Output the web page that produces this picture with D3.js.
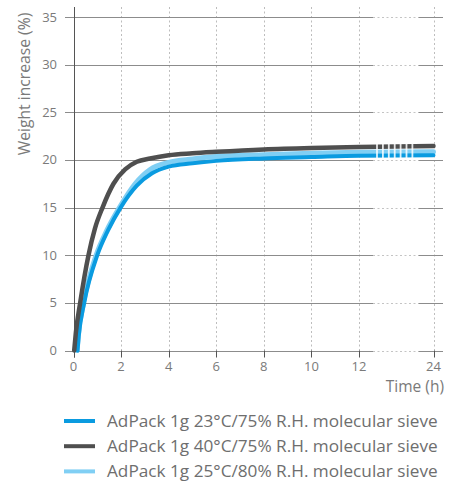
<!DOCTYPE html>
<html><head><meta charset="utf-8">
<script src="https://cdn.jsdelivr.net/npm/d3@7"></script>
<style>body{margin:0;background:#fff}svg{display:block}text{font-family:"Open Sans",sans-serif}</style>
</head><body><svg id="c" width="457" height="481"></svg>
<script>
const time40 = [0.03, 0.1, 0.28, 0.63, 0.9, 1.22, 1.68, 2.17, 2.66, 3.22, 4, 5, 6, 8, 10, 12, 24];
const series40 = [0, 1.9, 5, 10, 12.8, 15, 17.5, 19, 19.8, 20.15, 20.5, 20.7, 20.85, 21.1, 21.25, 21.35, 21.45];
const time25 = [0.15, 0.2, 0.42, 0.95, 1.4, 1.93, 2.59, 3.22, 4, 5, 6, 8, 10, 12, 24];
const series25 = [0, 1.5, 5, 10, 12.6, 15, 17.5, 19, 19.75, 20.1, 20.35, 20.55, 20.7, 20.8, 20.85];
const time23 = [0.17, 0.22, 0.45, 1.0, 1.45, 1.98, 2.66, 3.3, 4, 5, 6, 8, 10, 12, 24];
const series23 = [0, 1.5, 5, 10, 12.6, 15, 17.3, 18.6, 19.3, 19.65, 19.9, 20.15, 20.3, 20.45, 20.5];
const xTicks = [0, 2, 4, 6, 8, 10, 12, 24];
const yTicks = [0, 5, 10, 15, 20, 25, 30, 35];
const legendLabels = ["AdPack 1g 23°C/75% R.H. molecular sieve", "AdPack 1g 40°C/75% R.H. molecular sieve", "AdPack 1g 25°C/80% R.H. molecular sieve"];
const colors = {c23: "#0a9be0", c40: "#4f4f4f", c25: "#80cff4"};

const svg = d3.select("#c");
const x = d3.scaleLinear().domain([0, 12, 24]).range([73.5, 359, 433.5]);
const y = d3.scaleLinear().domain([0, 35]).range([350.5, 17]);
const gridLeft = 65, gridRight = 443;
const brk0 = x(12) + 14, brk1 = x(24) - 15;

// vertical dotted grid
svg.append("g").selectAll("line").data(xTicks.filter(d => d > 0)).join("line")
  .attr("x1", d => Math.round(x(d)) + 0.5).attr("x2", d => Math.round(x(d)) + 0.5)
  .attr("y1", 7).attr("y2", y(0))
  .attr("stroke", "#bdbdbd").attr("stroke-dasharray", "2,2.5");

// horizontal grid
const hg = svg.append("g");
yTicks.forEach(v => {
  const yy = Math.round(y(v)) + 0.5;
  hg.append("line").attr("x1", gridLeft).attr("x2", brk0).attr("y1", yy).attr("y2", yy).attr("stroke", "#8c8c8c");
  hg.append("line").attr("x1", brk0).attr("x2", brk1).attr("y1", yy).attr("y2", yy).attr("stroke", "#c4c4c4").attr("stroke-dasharray", "2,2.5");
  hg.append("line").attr("x1", brk1).attr("x2", gridRight).attr("y1", yy).attr("y2", yy).attr("stroke", "#8c8c8c");
});

// y axis line
svg.append("line").attr("x1", Math.round(x(0)) + 0.5).attr("x2", Math.round(x(0)) + 0.5)
  .attr("y1", 7).attr("y2", y(0) + 7).attr("stroke", "#555");
// x ticks
svg.append("g").selectAll("line").data(xTicks).join("line")
  .attr("x1", d => Math.round(x(d)) + 0.5).attr("x2", d => Math.round(x(d)) + 0.5)
  .attr("y1", y(0)).attr("y2", y(0) + 7).attr("stroke", "#555");

// tick labels
svg.append("g").selectAll("text").data(yTicks).join("text")
  .attr("x", 57).attr("y", d => y(d) + 4.5).attr("text-anchor", "end")
  .attr("font-size", 13).attr("fill", "#7a7a7a").text(d => d);
svg.append("g").selectAll("text").data(xTicks).join("text")
  .attr("x", d => x(d)).attr("y", y(0) + 20).attr("text-anchor", "middle")
  .attr("font-size", 13).attr("fill", "#7a7a7a").text(d => d);

svg.append("text").attr("x", gridRight + 1).attr("y", 391.5).attr("text-anchor", "end")
  .attr("font-size", 15.5).attr("fill", "#7a7a7a").text("Time (h)");
svg.append("text").attr("transform", "translate(30,84) rotate(-90)").attr("text-anchor", "middle")
  .attr("font-size", 15.7).attr("fill", "#7a7a7a").text("Weight increase (%)");

// lines
const line = d3.line().curve(d3.curveMonotoneX).x(d => x(d[0])).y(d => y(d[1]));
const d25 = time25.map((t, i) => [t, series25[i]]);
const d23 = time23.map((t, i) => [t, series23[i]]);
const d40 = time40.map((t, i) => [t, series40[i]]);
svg.append("path").attr("d", line(d25)).attr("fill", "none").attr("stroke", colors.c25).attr("stroke-width", 5).attr("stroke-linecap", "round");
svg.append("path").attr("d", line(d23)).attr("fill", "none").attr("stroke", colors.c23).attr("stroke-width", 4).attr("stroke-linecap", "round");
svg.append("path").attr("d", line(d40)).attr("fill", "none").attr("stroke", colors.c40).attr("stroke-width", 4.5).attr("stroke-linecap", "round");

// break stripes
const stripeTop = y(21.9), stripeBot = y(20.0);
d3.range(7).forEach(i => {
  const sx = brk0 + 4 + i * 5.9;
  svg.append("line").attr("x1", sx).attr("x2", sx).attr("y1", stripeTop).attr("y2", stripeBot)
    .attr("stroke", "#fff").attr("stroke-width", 1.8).attr("opacity", 0.85);
});

// legend
const lg = svg.append("g");
const legendColors = [colors.c23, colors.c40, colors.c25];
legendLabels.forEach((lab, i) => {
  const yy = 421 + i * 25.2;
  lg.append("line").attr("x1", 64).attr("x2", 95).attr("y1", yy).attr("y2", yy).attr("stroke", legendColors[i]).attr("stroke-width", 4);
  lg.append("text").attr("x", 107).attr("y", yy + 6).attr("font-size", 17.2).attr("fill", "#6e6e6e").text(lab);
});
</script></body></html>
